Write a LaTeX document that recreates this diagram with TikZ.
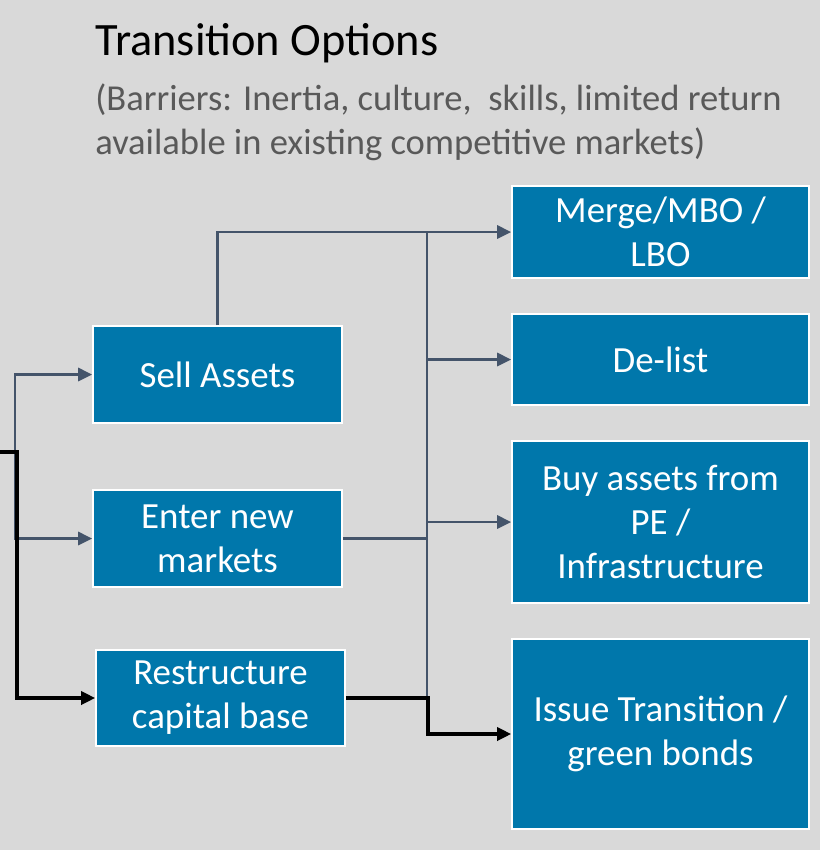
\documentclass[tikz,border=0pt]{standalone}
\usepackage{fontspec}
\setmainfont{Carlito}
\usepackage{tikz}
\usetikzlibrary{arrows.meta}
\definecolor{pageG}{RGB}{217,217,217}
\definecolor{optBlue}{RGB}{0,119,171}
\definecolor{linkS}{RGB}{68,84,106}
\definecolor{subG}{RGB}{89,89,89}

\begin{document}
\begin{tikzpicture}[x=0.02cm, y=-0.02cm,
  optbox/.style={draw=white, line width=1pt, fill=optBlue, text=white,
    align=center, inner sep=2pt, font=\fontsize{21}{25}\selectfont},
  link/.style={linkS, line width=1.5pt},
  flow/.style={link, -{Triangle[length=8pt, width=7.5pt]}},
  blkflow/.style={black, line width=1.8pt, -{Triangle[length=8pt, width=7.5pt]}}]
  % page
  \fill[pageG] (0,0) rectangle (820,850);
  \useasboundingbox (0,0) rectangle (820,850);
  % heading
  \node[anchor=base west, inner sep=0, font=\fontsize{26.4}{32}\selectfont] (title) at (95,55) {Transition Options};
  \node[anchor=base west, inner sep=0, align=left, text=subG, font=\fontsize{20.8}{25}\selectfont] (barriers) at (95,154)
     {(Barriers: Inertia, culture,\ \ skills, limited return\\ available in existing competitive markets)};
  % options on the left
  \node[optbox, minimum width=4.98cm, minimum height=1.94cm] (sell) at (217.5,374.5) {Sell Assets};
  \node[optbox, minimum width=4.98cm, minimum height=1.94cm] (enter) at (217.5,538.5) {Enter new\\ markets};
  \node[optbox, minimum width=4.98cm, minimum height=1.92cm] (restr) at (220.5,698) {Restructure\\ capital base};
  % outcomes on the right
  \node[optbox, minimum width=5.94cm, minimum height=1.84cm] (merge) at (660.5,232) {Merge/MBO /\\ LBO};
  \node[optbox, minimum width=5.94cm, minimum height=1.82cm] (delist) at (660.5,359.5) {De-list};
  \node[optbox, minimum width=5.94cm, minimum height=3.24cm] (buy) at (660.5,522) {Buy assets from\\ PE /\\ Infrastructure};
  \node[optbox, minimum width=5.94cm, minimum height=3.8cm] (issue) at (660.5,734) {Issue Transition /\\ green bonds};
  % bus in the middle
  \coordinate (busT) at (427,232);
  \coordinate (busB) at (428,734);
  \draw[flow] (sell.north) |- (merge.west);
  \draw[link] (busT) -- (busT |- busB);
  \draw[flow] (busT |- delist.west) -- (delist.west);
  \draw[flow] (busT |- buy.west) -- (buy.west);
  \draw[link] (enter.east) -- (busT |- enter.east);
  \draw[blkflow] (restr.east) -| (busB) -- (issue.west);
  % feed from the left edge
  \coordinate (src) at (0,452);
  \coordinate (fork) at (16,452);
  \draw[flow] ([xshift=-0.6pt]fork) |- (sell.west);
  \draw[flow] ([xshift=-0.6pt]fork) |- (enter.west);
  \draw[blkflow] (src) -- ([xshift=0.6pt]fork) |- (restr.west);
\end{tikzpicture}
\end{document}
